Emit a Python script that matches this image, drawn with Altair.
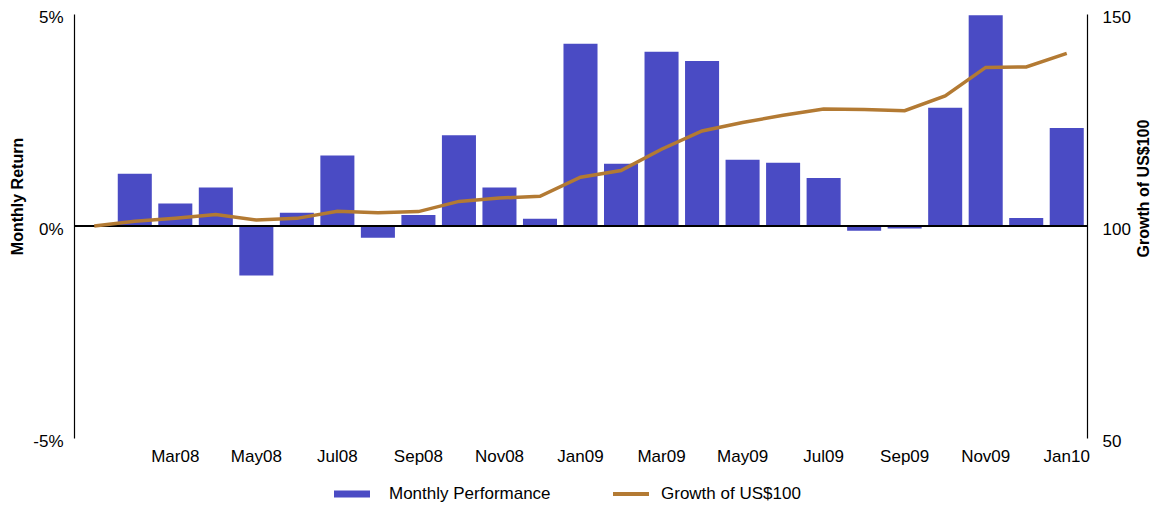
import altair as alt
import pandas as pd

months = ["Jan08", "Feb08", "Mar08", "Apr08", "May08", "Jun08", "Jul08", "Aug08",
          "Sep08", "Oct08", "Nov08", "Dec08", "Jan09", "Feb09", "Mar09", "Apr09",
          "May09", "Jun09", "Jul09", "Aug09", "Sep09", "Oct09", "Nov09", "Dec09", "Jan10"]
monthly_return = [None, 1.23, 0.53, 0.91, -1.17, 0.31, 1.66, -0.28, 0.26, 2.14, 0.91, 0.17,
                  4.30, 1.47, 4.11, 3.89, 1.56, 1.49, 1.13, -0.11, -0.06, 2.79, 4.97, 0.19, 2.31]
growth = [100.0, 101.1, 101.8, 102.7, 101.4, 101.8, 103.5, 103.1, 103.4, 105.8, 106.6, 107.0,
          111.5, 113.1, 118.1, 122.4, 124.4, 126.1, 127.6, 127.5, 127.2, 130.7, 137.4, 137.5, 140.7]
tick_months = ["Mar08", "May08", "Jul08", "Sep08", "Nov08", "Jan09", "Mar09", "May09",
               "Jul09", "Sep09", "Nov09", "Jan10"]
left_ticks = [-5, 0, 5]
right_ticks = [50, 100, 150]
bar_name = "Monthly Performance"
line_name = "Growth of US$100"

BLUE = "#4a4bc4"
GOLD = "#b37a33"
FONT = "Liberation Sans"

df = pd.DataFrame({
    "month": months,
    "ret": monthly_return,
    "growth": growth,
    "bar_series": bar_name,
    "line_series": line_name,
})

x_enc = alt.X(
    "month:N", sort=months,
    scale=alt.Scale(paddingInner=0.16, paddingOuter=0.08),
    axis=alt.Axis(values=tick_months, title=None, domain=False, ticks=False,
                  labelAngle=0, labelPadding=10, labelFontSize=17, labelFont=FONT,
                  labelColor="black"),
)

base = alt.Chart(df)

bars = base.mark_bar().encode(
    x=x_enc,
    y=alt.Y("ret:Q", scale=alt.Scale(domain=[-5, 5], nice=False),
            axis=alt.Axis(values=left_ticks, labelExpr="datum.value + '%'",
                          title="Monthly Return", grid=False, ticks=False,
                          domainColor="black", domainWidth=1.2,
                          labelPadding=11, labelOffset=3, labelFontSize=17, labelFont=FONT,
                          labelColor="black",
                          titleFont=FONT, titleFontSize=16, titleFontWeight="bold",
                          titleColor="black", titleAngle=270, titleX=-57, titleY=182,
                          titleAlign="center", titleBaseline="middle")),
    fill=alt.Fill("bar_series:N", scale=alt.Scale(domain=[bar_name], range=[BLUE]),
                  legend=alt.Legend(title=None, orient="none", legendX=260, legendY=462,
                                    symbolType="M-1,-0.2L1,-0.2L1,0.2L-1,0.2Z",
                                    symbolSize=1296, symbolStrokeWidth=0,
                                    labelOffset=19, labelFontSize=17, labelFont=FONT,
                                    labelLimit=400,
                                    labelColor="black", padding=0)),
)

zero_rule = base.mark_rule(color="black", strokeWidth=1.5).encode(
    y=alt.datum(0)
)

left_layer = alt.layer(bars, zero_rule)

line = base.mark_line(strokeWidth=3.5).encode(
    x=x_enc,
    y=alt.Y("growth:Q", scale=alt.Scale(domain=[50, 150], nice=False),
            axis=alt.Axis(orient="right", values=right_ticks, title="Growth of US$100",
                          grid=False, ticks=False, domainColor="black", domainWidth=1.2,
                          labelPadding=15, labelOffset=3, labelFontSize=17, labelFont=FONT,
                          labelColor="black",
                          titleFont=FONT, titleFontSize=16, titleFontWeight="bold",
                          titleColor="black", titleAngle=270, titleX=56, titleY=174,
                          titleAlign="center", titleBaseline="middle")),
    stroke=alt.Stroke("line_series:N", scale=alt.Scale(domain=[line_name], range=[GOLD]),
                      legend=alt.Legend(title=None, orient="none", legendX=537, legendY=460,
                                        symbolType="stroke", symbolSize=1296,
                                        symbolStrokeWidth=4,
                                        labelOffset=10, labelFontSize=17, labelFont=FONT,
                                        labelLimit=400,
                                        labelColor="black", padding=0)),
)

chart = alt.layer(left_layer, line).resolve_scale(
    y="independent", fill="independent", stroke="independent"
).properties(
    width=1013, height=424,
    padding={"left": 66, "top": 6, "right": 63, "bottom": 70},
    autosize=alt.AutoSizeParams(type="none"),
).configure_view(stroke=None)

chart.save("out.html", embed_options={"renderer": "svg", "actions": False})
